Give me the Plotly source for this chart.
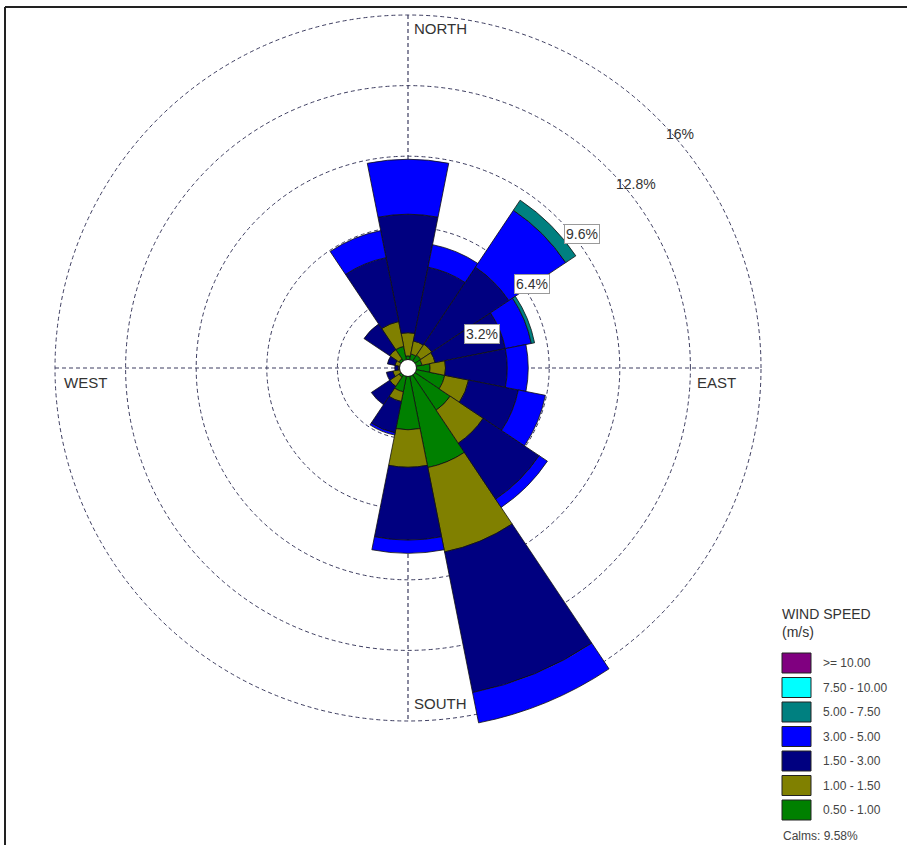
import plotly.graph_objects as go

# ---------------- data ----------------
directions = ["N", "NNE", "NE", "ENE", "E", "ESE", "SE", "SSE",
              "S", "SSW", "SW", "WSW", "W", "WNW", "NW", "NNW"]
dir_angles = [0, 22.5, 45, 67.5, 90, 112.5, 135, 157.5,
              180, 202.5, 225, 247.5, 270, 292.5, 315, 337.5]

# frequency (%) of each speed class per direction (stacked from the centre)
spd_050_100 = [0.55, 0.65, 0.70, 0.65, 1.00, 1.70, 2.30, 4.60, 2.80, 1.10, 0.50, 0.35, 0.30, 0.35, 0.50, 1.00]
spd_100_150 = [1.05, 0.60, 0.60, 0.60, 0.70, 1.10, 1.80, 3.90, 1.70, 0.45, 0.50, 0.35, 0.15, 0.25, 0.50, 1.15]
spd_150_300 = [5.37, 3.41, 4.20, 3.25, 2.80, 2.30, 3.05, 6.50, 3.30, 1.45, 1.00, 0.30, 0.15, 0.35, 1.40, 2.95]
spd_300_500 = [2.49, 1.04, 3.10, 1.20, 0.95, 1.25, 0.45, 1.40, 0.60, 0.10, 0.00, 0.00, 0.00, 0.00, 0.00, 1.25]
spd_500_750 = [0.00, 0.00, 0.55, 0.15, 0.00, 0.00, 0.00, 0.00, 0.00, 0.00, 0.00, 0.00, 0.00, 0.00, 0.00, 0.00]
spd_750_1000 = [0.0] * 16
spd_ge_1000 = [0.0] * 16

series_values = [spd_050_100, spd_100_150, spd_150_300, spd_300_500,
                 spd_500_750, spd_750_1000, spd_ge_1000]
series_labels = ["0.50 - 1.00", "1.00 - 1.50", "1.50 - 3.00", "3.00 - 5.00",
                 "5.00 - 7.50", "7.50 - 10.00", ">= 10.00"]
series_colors = ["#008000", "#808000", "#000080", "#0000FF",
                 "#008080", "#00FFFF", "#800080"]

ring_values = [3.2, 6.4, 9.6, 12.8, 16]
compass_labels = ["NORTH", "EAST", "SOUTH", "WEST"]
calms_text = "Calms: 9.58%"
legend_title = ["WIND SPEED", "(m/s)"]

# ---------------- layout geometry ----------------
W, H = 907, 845
CX, CY = 408, 368          # centre of the rose, px
R16 = 353                  # radius of the 16 % ring, px
RMAX = 16.5
R_FULL = R16 * RMAX / 16

def px(x):
    return x / W

def py(y):
    return 1 - y / H

fig = go.Figure()

for vals, lab, col in zip(series_values, series_labels, series_colors):
    fig.add_trace(go.Barpolar(
        r=vals, theta=dir_angles, width=[22.5] * 16, name=lab,
        marker=dict(color=col, line=dict(color="#101010", width=0.8)),
        showlegend=False, hoverinfo="skip"))

# calm circle in the centre
fig.add_trace(go.Scatterpolar(
    r=[0], theta=[0], mode="markers",
    marker=dict(size=17, color="white", line=dict(color="#111", width=1)),
    showlegend=False, hoverinfo="skip"))

grid_col = "#3d3d60"
dash = "4px,3px"
fig.update_layout(
    width=W, height=H,
    margin=dict(l=0, r=0, t=0, b=0),
    paper_bgcolor="white",
    plot_bgcolor="white",
    polar=dict(
        domain=dict(x=[px(CX - R_FULL), px(CX + R_FULL)],
                    y=[py(CY + R_FULL), py(CY - R_FULL)]),
        bgcolor="rgba(0,0,0,0)",
        barmode="stack",
        radialaxis=dict(range=[0, RMAX], tickvals=ring_values, showticklabels=False,
                        ticks="", showline=False, gridcolor=grid_col, griddash=dash,
                        gridwidth=1.2),
        angularaxis=dict(direction="clockwise", rotation=90, showgrid=False,
                         showticklabels=False, ticks="", showline=False),
    ),
    font=dict(family="Arial, Liberation Sans, sans-serif", color="#333333"),
)

shapes = []
# compass cross (dashed) under the bars, ending at the 16 % ring
shapes.append(dict(type="line", xref="paper", yref="paper", layer="below",
                   x0=px(CX), x1=px(CX), y0=py(CY - R16), y1=py(CY + R16),
                   line=dict(color=grid_col, width=1.2, dash=dash)))
shapes.append(dict(type="line", xref="paper", yref="paper", layer="below",
                   x0=px(CX - R16), x1=px(CX + R16), y0=py(CY), y1=py(CY),
                   line=dict(color=grid_col, width=1.2, dash=dash)))

ann = []
# ring labels at 45 degrees
for i, v in enumerate(ring_values):
    r = v * R16 / 16
    x = CX + r * 0.7071 + 6
    y = CY - r * 0.7071 + 6
    boxed = i < 3
    ann.append(dict(x=px(x), y=py(y), xref="paper", yref="paper", xanchor="left", yanchor="top",
                    text=f"{v:g}%", showarrow=False, font=dict(size=14, color="#333333"),
                    bgcolor="white" if boxed else "rgba(0,0,0,0)",
                    bordercolor="#9a9a9a" if boxed else "rgba(0,0,0,0)", borderwidth=1, borderpad=1))

# compass labels
comp_pos = [(CX + 4, 29, "left"), (738, 383, "right"), (CX + 4, 703, "left"), (62, 383, "left")]
for t, (x, y, xa) in zip(compass_labels, comp_pos):
    ann.append(dict(x=px(x), y=py(y), xref="paper", yref="paper", xanchor=xa, yanchor="middle",
                    text=t, showarrow=False, font=dict(size=15, color="#333333")))

# legend
ann.append(dict(x=px(780), y=py(614), xref="paper", yref="paper", xanchor="left", yanchor="middle",
                text=legend_title[0], showarrow=False, font=dict(size=14, color="#333333")))
ann.append(dict(x=px(780), y=py(632), xref="paper", yref="paper", xanchor="left", yanchor="middle",
                text=legend_title[1], showarrow=False, font=dict(size=14, color="#333333")))
leg_order = list(range(len(series_labels)))[::-1]
for k, idx in enumerate(leg_order):
    yc = 663 + k * 24.5
    shapes.append(dict(type="rect", xref="paper", yref="paper",
                       x0=px(782), x1=px(811), y0=py(yc + 10), y1=py(yc - 10),
                       fillcolor=series_colors[idx], line=dict(color="#222", width=1)))
    ann.append(dict(x=px(821), y=py(yc), xref="paper", yref="paper", xanchor="left", yanchor="middle",
                    text=series_labels[idx], showarrow=False, font=dict(size=12, color="#444444")))
ann.append(dict(x=px(781), y=py(836), xref="paper", yref="paper", xanchor="left", yanchor="middle",
                text=calms_text, showarrow=False, font=dict(size=12, color="#444444")))

# frame lines (top and left)
shapes.append(dict(type="line", xref="paper", yref="paper", x0=px(5), x1=1, y0=py(7), y1=py(7),
                   line=dict(color="#222", width=2)))
shapes.append(dict(type="line", xref="paper", yref="paper", x0=px(5), x1=px(5), y0=py(7), y1=0,
                   line=dict(color="#222", width=2)))

fig.update_layout(annotations=ann, shapes=shapes)
fig.write_html("out.html")
